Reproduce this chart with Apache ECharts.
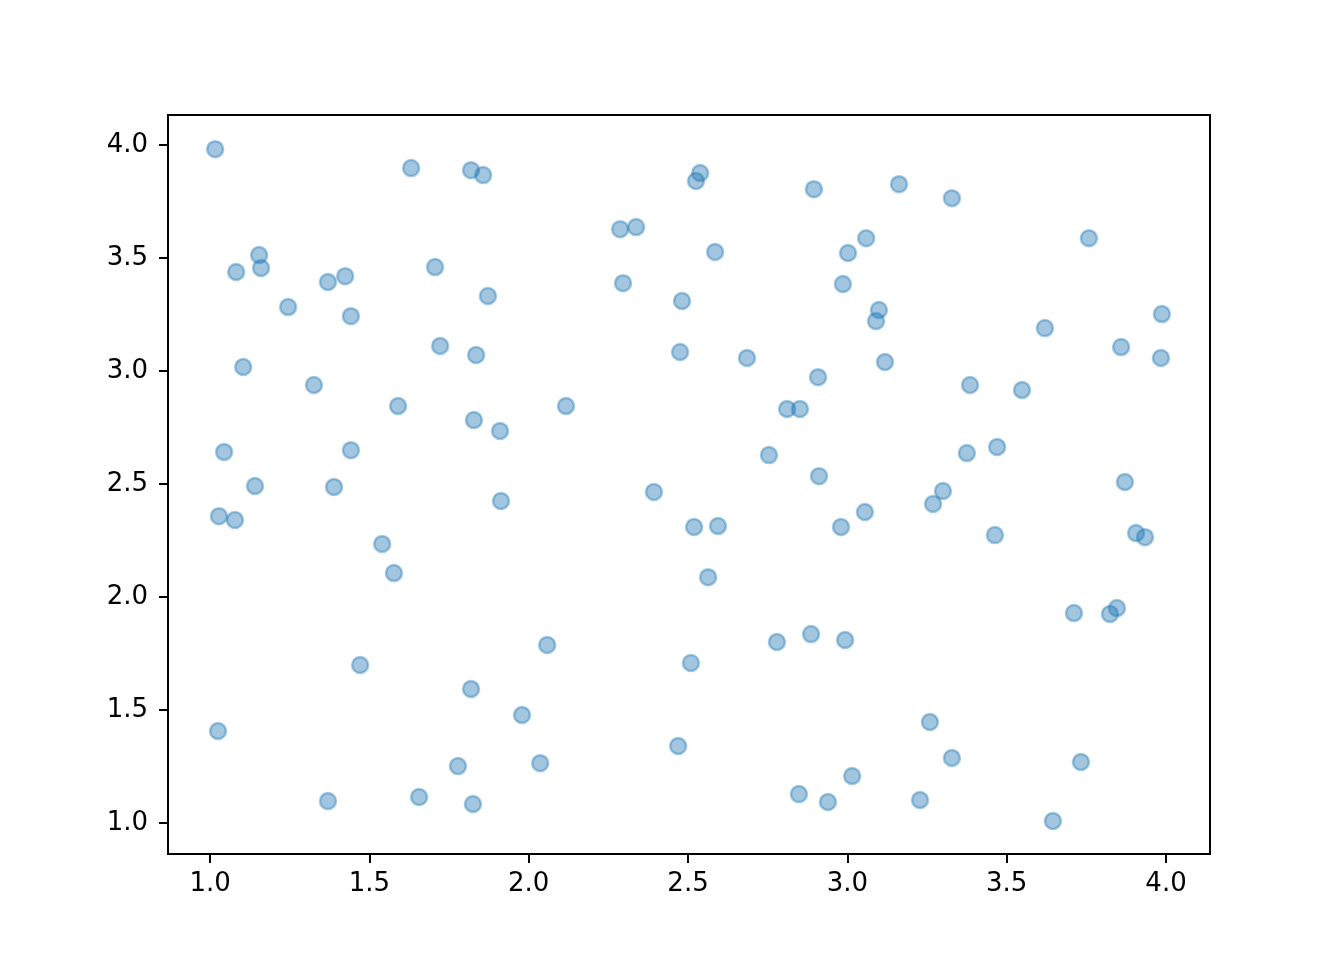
<!DOCTYPE html>
<html>
<head>
<meta charset="utf-8">
<script src="https://cdn.jsdelivr.net/npm/echarts@6/dist/echarts.min.js"></script>
<style>
  html, body { margin: 0; padding: 0; background: #fff; }
  #chart { width: 1344px; height: 960px; }
</style>
</head>
<body>
<div id="chart"></div>
<script>
// scatter values
var xs = [1.016, 1.631, 1.819, 1.857, 2.538, 2.525, 2.895, 3.162, 3.328, 2.287,
  2.337, 3.059, 3.758, 1.154, 1.082, 1.160, 2.585, 3.002, 1.706, 1.370,
  1.424, 2.296, 2.986, 1.872, 2.481, 1.245, 1.442, 3.099, 3.090, 3.987,
  3.620, 1.722, 1.835, 2.475, 3.859, 2.685, 3.118, 3.984, 1.104, 1.326,
  2.908, 3.385, 3.548, 1.590, 2.117, 2.811, 2.851, 1.828, 1.910, 1.044,
  1.442, 2.754, 3.375, 3.470, 1.141, 1.389, 2.393, 2.911, 3.300, 3.269,
  3.871, 1.913, 1.028, 1.078, 2.519, 2.594, 2.980, 3.055, 3.463, 3.906,
  3.934, 1.540, 1.577, 2.563, 3.711, 3.824, 3.846, 2.058, 2.779, 2.886,
  2.993, 1.471, 2.509, 1.819, 1.979, 1.025, 3.259, 2.469, 3.328, 1.778,
  2.036, 3.733, 3.015, 1.370, 1.656, 1.825, 2.848, 2.939, 3.228, 3.645];
var ys = [3.982, 3.898, 3.889, 3.867, 3.876, 3.841, 3.805, 3.827, 3.765, 3.628,
  3.637, 3.588, 3.588, 3.513, 3.438, 3.456, 3.527, 3.522, 3.460, 3.394,
  3.420, 3.389, 3.385, 3.332, 3.310, 3.283, 3.243, 3.270, 3.221, 3.252,
  3.190, 3.111, 3.071, 3.084, 3.106, 3.058, 3.040, 3.058, 3.018, 2.938,
  2.973, 2.938, 2.916, 2.845, 2.845, 2.832, 2.832, 2.783, 2.735, 2.642,
  2.650, 2.628, 2.637, 2.664, 2.491, 2.487, 2.465, 2.535, 2.469, 2.412,
  2.509, 2.425, 2.358, 2.341, 2.310, 2.314, 2.310, 2.376, 2.274, 2.283,
  2.265, 2.235, 2.106, 2.088, 1.929, 1.925, 1.951, 1.788, 1.801, 1.836,
  1.810, 1.699, 1.708, 1.593, 1.478, 1.407, 1.447, 1.341, 1.288, 1.252,
  1.265, 1.270, 1.208, 1.097, 1.115, 1.084, 1.128, 1.093, 1.102, 1.009];
var xTicks = [1.0, 1.5, 2.0, 2.5, 3.0, 3.5, 4.0];
var yTicks = [1.0, 1.5, 2.0, 2.5, 3.0, 3.5, 4.0];

var points = xs.map(function (x, i) { return [x, ys[i]]; });

var myChart = echarts.init(document.getElementById("chart"));
var axisCommon = {
  type: "value",
  scale: true,
  splitLine: { show: false },
  axisLine: { show: true, lineStyle: { color: "#000", width: 2 } },
  axisTick: { show: true, inside: false, length: 9, lineStyle: { color: "#000", width: 2 } },
  axisLabel: {
    color: "#000",
    fontSize: 26,
    fontFamily: "DejaVu Sans",
    formatter: function (v) { return v.toFixed(1); }
  }
};
var option = {
  animation: false,
  backgroundColor: "#fff",
  grid: {
    left: 168, right: 134, top: 115, bottom: 106,
    show: true, borderColor: "#000", borderWidth: 2, containLabel: false
  },
  xAxis: echarts.util.merge({
    min: 0.868, max: 4.138,
    axisTick: { customValues: xTicks },
    axisLabel: { customValues: xTicks, margin: 17 }
  }, axisCommon),
  yAxis: echarts.util.merge({
    min: 0.863, max: 4.133,
    axisTick: { customValues: yTicks },
    axisLabel: { customValues: yTicks, margin: 20 }
  }, axisCommon),
  series: [
    {
      type: "scatter",
      data: points,
      symbolSize: 16,
      itemStyle: {
        color: "rgba(31,119,180,0.52)",
        borderColor: "rgba(31,119,180,0.5)",
        borderWidth: 2.5
      }
    }
  ]
};
myChart.setOption(option);
</script>
</body>
</html>
